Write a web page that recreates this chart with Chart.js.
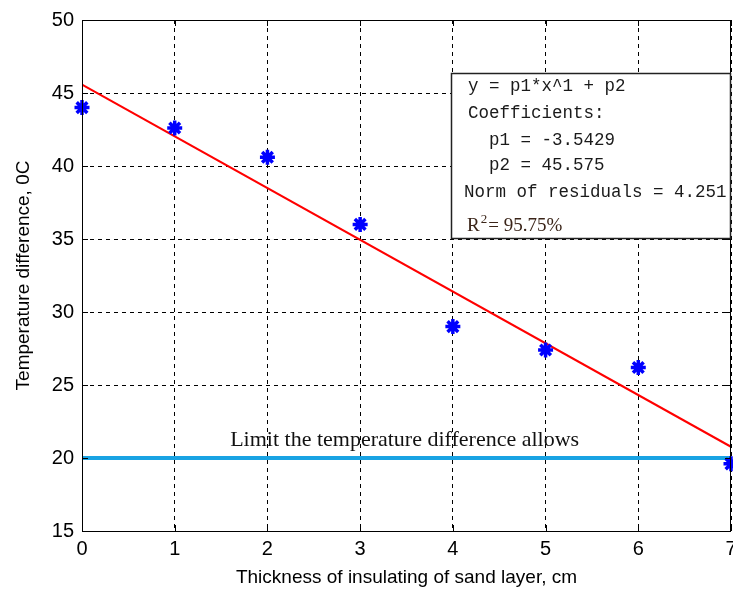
<!DOCTYPE html>
<html>
<head>
<meta charset="utf-8">
<script src="https://cdn.jsdelivr.net/npm/chart.js@4/dist/chart.umd.min.js"></script>
<style>
html,body{margin:0;padding:0;background:#fff;overflow:hidden;}
#wrap{position:relative;width:733px;height:594px;overflow:hidden;}
</style>
</head>
<body>
<div id="wrap"><canvas id="c" width="742" height="594"></canvas></div>
<script>
// Data
const thickness = [0, 1, 2, 3, 4, 5, 6, 7];
const tempDiff = [44.0, 42.6, 40.6, 36.0, 29.0, 27.4, 26.2, 19.6];
const fitX = [0, 7];
const fitY = [45.575, 20.775];
const limitX = [0, 7];
const limitY = [20, 20];
const xTicks = [0, 1, 2, 3, 4, 5, 6, 7];
const yTicks = [15, 20, 25, 30, 35, 40, 45, 50];
const boxLines = ["y = p1*x^1 + p2", "Coefficients:", "  p1 = -3.5429", "  p2 = 45.575", "Norm of residuals = 4.251"];
const rSquaredParts = ["R", "2", "= 95.75%"];
const limitLabel = "Limit the temperature difference allows";

const pairs = (xs, ys) => xs.map((x, i) => ({x: x, y: ys[i]}));

const overlay = {
  id: 'overlay',
  afterDraw(chart) {
    const ctx = chart.ctx;
    const a = chart.chartArea;
    const xs = chart.scales.x, ys = chart.scales.y;
    ctx.save();
    // frame
    ctx.strokeStyle = '#000';
    ctx.lineWidth = 1;
    ctx.setLineDash([]);
    ctx.strokeRect(Math.round(a.left) + 0.5, Math.round(a.top) + 0.5, Math.round(a.right - a.left) - 1, Math.round(a.bottom - a.top));
    // inner tick marks
    xTicks.forEach(v => {
      const px = Math.round(xs.getPixelForValue(v)) + 0.5;
      ctx.beginPath();
      ctx.moveTo(px, a.top); ctx.lineTo(px, a.top + 6);
      ctx.moveTo(px, a.bottom); ctx.lineTo(px, a.bottom - 6);
      ctx.stroke();
    });
    yTicks.forEach(v => {
      const py = Math.round(ys.getPixelForValue(v)) + 0.5;
      ctx.beginPath();
      ctx.moveTo(a.left, py); ctx.lineTo(a.left + 6, py);
      ctx.moveTo(a.right, py); ctx.lineTo(a.right - 6, py);
      ctx.stroke();
    });
    // limit label
    ctx.fillStyle = '#111';
    ctx.font = '22px "Liberation Serif", "Times New Roman", serif';
    ctx.textAlign = 'center';
    ctx.textBaseline = 'middle';
    ctx.fillText(limitLabel, xs.getPixelForValue(3.48), ys.getPixelForValue(21.2));
    // fit info box
    const bx = 451.5, by = 73.5, bw = 279, bh = 165;
    ctx.fillStyle = '#fff';
    ctx.fillRect(bx, by, bw, bh);
    ctx.strokeStyle = '#222';
    ctx.lineWidth = 1.5;
    ctx.strokeRect(bx, by, bw, bh);
    ctx.fillStyle = '#1a1a1a';
    ctx.textAlign = 'left';
    ctx.font = '17.5px "Liberation Mono", "Courier New", monospace';
    const lineY = [86, 113, 140, 165, 192];
    const lineX = [468, 468, 468, 468, 464];
    boxLines.forEach((t, i) => ctx.fillText(t, lineX[i], lineY[i]));
    ctx.fillStyle = '#3a2418';
    ctx.textBaseline = 'alphabetic';
    ctx.font = '19px "Liberation Serif", "Times New Roman", serif';
    let tx = 467;
    ctx.fillText(rSquaredParts[0], tx, 231);
    tx += ctx.measureText(rSquaredParts[0]).width + 1;
    ctx.font = '13px "Liberation Serif", "Times New Roman", serif';
    ctx.fillText(rSquaredParts[1], tx, 223);
    tx += ctx.measureText(rSquaredParts[1]).width + 1;
    ctx.font = '19px "Liberation Serif", "Times New Roman", serif';
    ctx.fillText(rSquaredParts[2], tx, 231);
    ctx.restore();
  }
};

new Chart(document.getElementById('c'), {
  type: 'scatter',
  data: {
    datasets: [
      {
        type: 'line',
        data: pairs(limitX, limitY),
        borderColor: '#19a3e3',
        borderWidth: 4,
        pointRadius: 0,
        fill: false,
        order: 3
      },
      {
        type: 'line',
        data: pairs(fitX, fitY),
        borderColor: '#ff0000',
        borderWidth: 2.2,
        pointRadius: 0,
        fill: false,
        order: 2
      },
      {
        data: pairs(thickness, tempDiff),
        pointStyle: 'star',
        pointRadius: 7.5,
        borderColor: '#0000ff',
        backgroundColor: '#0000ff',
        borderWidth: 3.5,
        clip: false,
        order: 1
      }
    ]
  },
  options: {
    responsive: false,
    animation: false,
    devicePixelRatio: 1,
    layout: {padding: {top: 20, right: 2, left: 0, bottom: 0}},
    plugins: {legend: {display: false}, tooltip: {enabled: false}},
    scales: {
      x: {
        type: 'linear',
        min: 0, max: 7,
        afterBuildTicks: s => { s.ticks = xTicks.map(v => ({value: v})); },
        afterFit: s => { s.height = 63; s.paddingLeft = 0; s.paddingRight = 0; },
        grid: {color: '#000', lineWidth: 1, drawTicks: false},
        border: {display: false, dash: [4, 4]},
        ticks: {color: '#000', padding: 6, font: {family: '"Liberation Sans", Arial, sans-serif', size: 20}},
        title: {display: true, text: 'Thickness of insulating of sand layer, cm', color: '#000', padding: {top: 2, bottom: 5},
          font: {family: '"Liberation Sans", Arial, sans-serif', size: 19}}
      },
      y: {
        type: 'linear',
        min: 15, max: 50,
        afterBuildTicks: s => { s.ticks = yTicks.map(v => ({value: v})); },
        afterFit: s => { s.width = 82; s.paddingTop = 0; s.paddingBottom = 0; },
        grid: {color: '#000', lineWidth: 1, drawTicks: false},
        border: {display: false, dash: [4, 4]},
        ticks: {color: '#000', padding: 8, font: {family: '"Liberation Sans", Arial, sans-serif', size: 20}},
        title: {display: true, text: 'Temperature difference, 0C', color: '#000', padding: {top: 12, bottom: 0},
          font: {family: '"Liberation Sans", Arial, sans-serif', size: 19}}
      }
    }
  },
  plugins: [overlay]
});
</script>
</body>
</html>
